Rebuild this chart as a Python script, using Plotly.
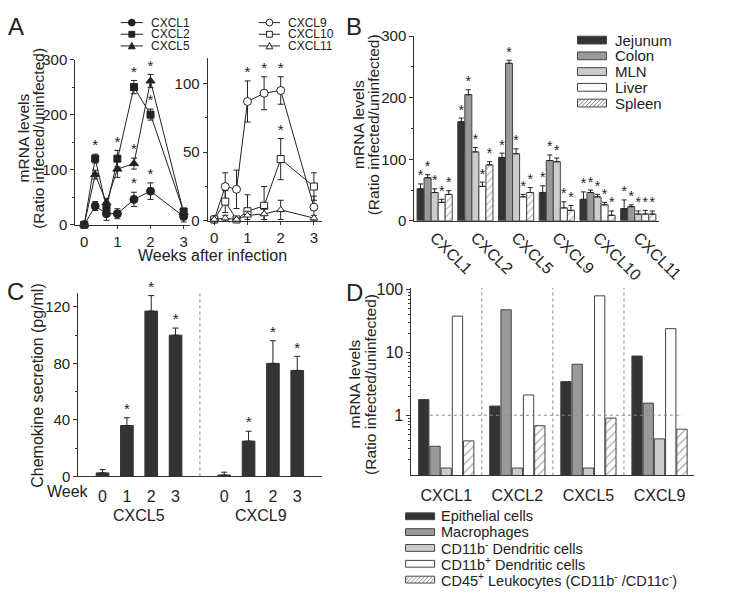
import plotly.graph_objects as go

W, H = 729, 602
FONT = "Liberation Sans, Arial, sans-serif"
TXT = "#222222"
AX = "#333333"

# ---------------- Panel A data ----------------
weeks_a = [0, 0.33, 0.67, 1, 1.5, 2, 3]
a_left_names = ["CXCL1", "CXCL2", "CXCL5"]
cxcl1_a = [0, 34, 20, 20, 46, 61, 15]
cxcl1_a_err = [1, 8, 12, 9, 13, 15, 10]
cxcl1_a_sig = [0, 0, 0, 0, 1, 1, 0]
cxcl2_a = [0, 120, 31, 120, 250, 200, 24]
cxcl2_a_err = [1, 8, 6, 15, 12, 10, 6]
cxcl2_a_sig = [0, 1, 0, 1, 1, 1, 0]
cxcl5_a = [0, 91, 40, 101, 111, 261, 22]
cxcl5_a_err = [1, 8, 8, 15, 10, 12, 5]
cxcl5_a_sig = [0, 0, 0, 0, 1, 1, 0]

a_right_names = ["CXCL9", "CXCL10", "CXCL11"]
cxcl9_a = [1, 25, 23, 87, 93, 95, 10]
cxcl9_a_err = [1, 10, 14, 15, 12, 10, 8]
cxcl9_a_sig = [0, 0, 0, 1, 1, 1, 0]
cxcl10_a = [1, 14, 1, 7, 11, 45, 25]
cxcl10_a_err = [1, 8, 1, 12, 14, 15, 10]
cxcl10_a_sig = [0, 0, 0, 0, 0, 1, 0]
cxcl11_a = [1, 2, 1, 4, 5, 8, 2]
cxcl11_a_err = [0.5, 2, 1, 3, 4, 7, 2]
cxcl11_a_sig = [0, 0, 0, 0, 0, 0, 0]

# ---------------- Panel B data ----------------
genes_b = ["CXCL1", "CXCL2", "CXCL5", "CXCL9", "CXCL10", "CXCL11"]
tissues_b = ["Jejunum", "Colon", "MLN", "Liver", "Spleen"]
jejunum_b = [52, 161, 103, 46, 35, 20]
jejunum_b_err = [8, 6, 7, 11, 12, 14]
colon_b = [70, 205, 256, 98, 46, 23]
colon_b_err = [5, 8, 5, 9, 4, 3]
mln_b = [46, 112, 109, 96, 39, 11]
mln_b_err = [6, 7, 8, 6, 4, 5]
liver_b = [30, 56, 39, 21, 26, 11]
liver_b_err = [5, 7, 4, 10, 4, 6]
spleen_b = [43, 91, 46, 17, 9, 11]
spleen_b_err = [6, 5, 8, 8, 7, 5]

# ---------------- Panel C data ----------------
chemokines_c = ["CXCL5", "CXCL9"]
week_labels_c = ["0", "1", "2", "3"]
cxcl5_c = [2.5, 36, 117, 100]
cxcl5_c_err = [2.3, 5.5, 11, 5]
cxcl5_c_sig = [0, 1, 1, 1]
cxcl9_c = [1, 25, 80, 75]
cxcl9_c_err = [2, 7, 16, 10]
cxcl9_c_sig = [0, 1, 1, 1]

# ---------------- Panel D data ----------------
genes_d = ["CXCL1", "CXCL2", "CXCL5", "CXCL9"]
cells_d = ["Epithelial cells", "Macrophages", "CD11b<sup>-</sup> Dendritic cells",
           "CD11b<sup>+</sup> Dendritic cells",
           "CD45<sup>+</sup> Leukocytes (CD11b<sup>-</sup> /CD11c<sup>-</sup>)"]
epithelial_d = [1.78, 1.4, 3.44, 8.8]
macrophages_d = [0.32, 48, 6.5, 1.56]
cd11b_neg_dc_d = [0.144, 0.144, 0.144, 0.42]
cd11b_pos_dc_d = [38, 2.1, 80, 24]
cd45_leuk_d = [0.39, 0.68, 0.9, 0.6]

# ---------------- helpers ----------------
def PX(x):
    return x / W

def PY(y):
    return 1 - y / H

fig = go.Figure()
shapes = []
annots = []


def add_line_series(xs, ys, errs, sig, name, symbol, size, filled, xa, ya):
    fig.add_trace(go.Scatter(
        x=xs, y=ys, mode="lines+markers", name=name,
        line=dict(color=TXT, width=1),
        marker=dict(symbol=symbol, size=size, color=TXT if filled else "white",
                    line=dict(color=TXT, width=1)),
        error_y=dict(type="data", array=errs, color=TXT, thickness=1, width=3),
        xaxis=xa, yaxis=ya, cliponaxis=False, showlegend=False, hoverinfo="skip"))
    sx = [x for x, s in zip(xs, sig) if s]
    sy = [y + e for y, e, s in zip(ys, errs, sig) if s]
    if sx:
        fig.add_trace(go.Scatter(
            x=sx, y=sy, mode="text", text=["*"] * len(sx), textposition="top center",
            textfont=dict(size=15, color=TXT, family=FONT),
            xaxis=xa, yaxis=ya, cliponaxis=False, showlegend=False, hoverinfo="skip"))


add_line_series(weeks_a, cxcl1_a, cxcl1_a_err, cxcl1_a_sig, "CXCL1", "circle", 8, True, "x", "y")
add_line_series(weeks_a, cxcl2_a, cxcl2_a_err, cxcl2_a_sig, "CXCL2", "square", 7, True, "x", "y")
add_line_series(weeks_a, cxcl5_a, cxcl5_a_err, cxcl5_a_sig, "CXCL5", "triangle-up", 8, True, "x", "y")
add_line_series(weeks_a, cxcl9_a, cxcl9_a_err, cxcl9_a_sig, "CXCL9", "circle", 8, False, "x2", "y2")
add_line_series(weeks_a, cxcl10_a, cxcl10_a_err, cxcl10_a_sig, "CXCL10", "square", 7, False, "x2", "y2")
add_line_series(weeks_a, cxcl11_a, cxcl11_a_err, cxcl11_a_sig, "CXCL11", "triangle-up", 7, False, "x2", "y2")

# ---------------- Panel B bars ----------------
fills5 = ["#333333", "#999999", "#cccccc", "#ffffff", "#ffffff"]
hatched5 = [False, False, False, False, True]
b_series = [(jejunum_b, jejunum_b_err), (colon_b, colon_b_err), (mln_b, mln_b_err),
            (liver_b, liver_b_err), (spleen_b, spleen_b_err)]
WB = 0.173
for j, (vals, errs) in enumerate(b_series):
    xs = [i + (j - 2) * WB for i in range(len(genes_b))]
    pattern = dict(shape="/", fgcolor="#555555", bgcolor="white", size=5, solidity=0.2) if hatched5[j] else None
    fig.add_trace(go.Bar(
        x=xs, y=vals, width=WB, name=tissues_b[j],
        marker=dict(color=fills5[j], line=dict(color="#444444", width=1), pattern=pattern),
        error_y=dict(type="data", symmetric=False, array=errs, arrayminus=[0] * len(errs),
                     color=TXT, thickness=1, width=2.5),
        xaxis="x3", yaxis="y3", showlegend=False, hoverinfo="skip"))
    fig.add_trace(go.Scatter(
        x=xs, y=[v + e for v, e in zip(vals, errs)], mode="text", text=["*"] * len(xs),
        textposition="top center", textfont=dict(size=14, color=TXT, family=FONT),
        xaxis="x3", yaxis="y3", cliponaxis=False, showlegend=False, hoverinfo="skip"))

# ---------------- Panel C bars ----------------
c_series = [(cxcl5_c, cxcl5_c_err, cxcl5_c_sig), (cxcl9_c, cxcl9_c_err, cxcl9_c_sig)]
c_tickvals, c_ticktext = [], []
for g, (vals, errs, sig) in enumerate(c_series):
    xs = [k + 5 * g for k in range(len(vals))]
    c_tickvals += xs
    c_ticktext += week_labels_c
    fig.add_trace(go.Bar(
        x=xs, y=vals, width=0.52, name=chemokines_c[g],
        marker=dict(color="#333333", line=dict(color="#333333", width=1)),
        error_y=dict(type="data", symmetric=False, array=errs, arrayminus=[0] * len(errs),
                     color=TXT, thickness=1, width=3),
        xaxis="x4", yaxis="y4", showlegend=False, hoverinfo="skip"))
    sx = [x for x, s in zip(xs, sig) if s]
    sy = [v + e for v, e, s in zip(vals, errs, sig) if s]
    fig.add_trace(go.Scatter(
        x=sx, y=sy, mode="text", text=["*"] * len(sx), textposition="top center",
        textfont=dict(size=15, color=TXT, family=FONT),
        xaxis="x4", yaxis="y4", cliponaxis=False, showlegend=False, hoverinfo="skip"))
    annots.append(dict(x=sum(xs) / len(xs), xref="x4", y=PY(521), yref="paper",
                       text=chemokines_c[g], showarrow=False, yanchor="middle",
                       font=dict(size=16, color=TXT, family=FONT)))

# ---------------- Panel D bars ----------------
d_series = [epithelial_d, macrophages_d, cd11b_neg_dc_d, cd11b_pos_dc_d, cd45_leuk_d]
WD = 0.158
for j, vals in enumerate(d_series):
    xs = [i + (j - 2) * WD for i in range(len(genes_d))]
    pattern = dict(shape="/", fgcolor="#555555", bgcolor="white", size=6, solidity=0.2) if hatched5[j] else None
    fig.add_trace(go.Bar(
        x=xs, y=vals, width=0.145, name=cells_d[j],
        marker=dict(color=fills5[j], line=dict(color="#444444", width=1), pattern=pattern),
        xaxis="x5", yaxis="y5", showlegend=False, hoverinfo="skip"))

# ---------------- axes ----------------
TF = dict(size=15, color=TXT, family=FONT)

def axis(**kw):
    base = dict(showline=True, linecolor=AX, linewidth=1, ticks="outside", ticklen=4,
                tickwidth=1, tickcolor=AX, showgrid=False, zeroline=False,
                tickfont=TF, fixedrange=True)
    base.update(kw)
    return base

layout_axes = dict(
    xaxis=axis(domain=[PX(78), PX(197)], range=[-0.27, 3.2], anchor="y", dtick=1, tick0=0, ticklen=3),
    yaxis=axis(domain=[PY(222), PY(52)], range=[0, 300], anchor="x", dtick=100,
               minor=dict(ticks="outside", ticklen=2, dtick=50, tickcolor=AX)),
    xaxis2=axis(domain=[PX(215), PX(333)], range=[-0.2, 3.23], anchor="y2", dtick=1, tick0=0, ticklen=3),
    yaxis2=axis(domain=[PY(218), PY(50)], range=[0, 119], anchor="x2", dtick=50,
                minor=dict(ticks="outside", ticklen=2, dtick=25, tickcolor=AX)),
    xaxis3=axis(domain=[PX(429), PX(682)], range=[-0.5, 5.5], anchor="y3",
                tickvals=list(range(len(genes_b))), ticktext=genes_b, tickangle=45,
                ticks="", tickfont=dict(size=16, color=TXT, family=FONT)),
    yaxis3=axis(domain=[PY(218), PY(28)], range=[0, 300], anchor="x3", dtick=100,
                minor=dict(ticks="outside", ticklen=2, dtick=50, tickcolor=AX)),
    xaxis4=axis(domain=[PX(81), PX(333)], range=[-1, 9], anchor="y4",
                tickvals=c_tickvals, ticktext=c_ticktext, ticks="outside", ticklen=5,
                tickcolor="rgba(0,0,0,0)", tickfont=dict(size=16, color=TXT, family=FONT)),
    yaxis4=axis(domain=[PY(481), PY(292)], range=[0, 130], anchor="x4", dtick=40,
                minor=dict(ticks="outside", ticklen=2, dtick=20, tickcolor=AX)),
    xaxis5=axis(domain=[PX(426), PX(719)], range=[-0.49, 3.49], anchor="y5",
                tickvals=list(range(len(genes_d))), ticktext=genes_d, ticks="outside", ticklen=5,
                tickcolor="rgba(0,0,0,0)", tickfont=dict(size=16, color=TXT, family=FONT)),
    yaxis5=axis(type="log", domain=[PY(480), PY(287)], range=[-0.96, 2.03], anchor="x5",
                tickvals=[1, 10, 100], ticktext=["1", "10", "100"],
                tickfont=dict(size=16, color=TXT, family=FONT),
                minor=dict(ticks="outside", ticklen=2, tickcolor=AX,
                           tickvals=[m * 10 ** e for e in (-1, 0, 1) for m in range(2, 10)])),
)

# separators
shapes.append(dict(type="line", xref="x4", yref="y4 domain", x0=4, x1=4, y0=0, y1=1,
                   line=dict(color="#888888", width=1, dash="dot")))
for k in range(len(genes_d) - 1):
    shapes.append(dict(type="line", xref="x5", yref="y5 domain", x0=k + 0.5, x1=k + 0.5, y0=0, y1=1,
                       line=dict(color="#888888", width=1, dash="dot")))
shapes.append(dict(type="line", xref="x5", yref="y5", x0=-0.23, x1=3.32, y0=1, y1=1,
                   line=dict(color="#888888", width=1, dash="dot")))

# ---------------- legends (drawn) ----------------
def legend_line(x0, x1, y, symbol, filled, label):
    shapes.append(dict(type="line", xref="paper", yref="paper", x0=PX(x0), x1=PX(x1),
                       y0=PY(y), y1=PY(y), line=dict(color=TXT, width=1)))
    cx = (x0 + x1) / 2
    fill = TXT if filled else "white"
    if symbol == "circle":
        shapes.append(dict(type="circle", xref="paper", yref="paper", x0=PX(cx - 3.5), x1=PX(cx + 3.5),
                           y0=PY(y + 3.5), y1=PY(y - 3.5), fillcolor=fill, line=dict(color=TXT, width=1)))
    elif symbol == "square":
        shapes.append(dict(type="rect", xref="paper", yref="paper", x0=PX(cx - 3), x1=PX(cx + 3),
                           y0=PY(y + 3), y1=PY(y - 3), fillcolor=fill, line=dict(color=TXT, width=1)))
    else:
        path = "M%f,%f L%f,%f L%f,%f Z" % (PX(cx - 3.5), PY(y + 3), PX(cx + 3.5), PY(y + 3), PX(cx), PY(y - 3.5))
        shapes.append(dict(type="path", xref="paper", yref="paper", path=path, fillcolor=fill,
                           line=dict(color=TXT, width=1)))
    annots.append(dict(x=PX(x1 + 6), y=PY(y), xref="paper", yref="paper", text=label, showarrow=False,
                       xanchor="left", yanchor="middle", font=dict(size=12, color=TXT, family=FONT)))

syms = ["circle", "square", "triangle-up"]
for k, nm in enumerate(a_left_names):
    legend_line(125, 148, 14 + 12 * k, syms[k], True, nm)
for k, nm in enumerate(a_right_names):
    legend_line(268, 290, 14 + 12 * k, syms[k], False, nm)


def hatch_rect(x0, y0, x1, y1, step=4):
    h = y1 - y0
    xs = x0 - h
    while xs < x1:
        sx, sy = xs, y1
        ex, ey = xs + h, y0
        if sx < x0:
            sy = y1 - (x0 - sx)
            sx = x0
        if ex > x1:
            ey = y0 + (ex - x1)
            ex = x1
        if ex > sx:
            shapes.append(dict(type="line", xref="paper", yref="paper", x0=PX(sx), y0=PY(sy),
                               x1=PX(ex), y1=PY(ey), line=dict(color="#666666", width=0.8)))
        xs += step


def legend_box(x0, x1, yc, hh, color, hatched, label, tx, fsize):
    shapes.append(dict(type="rect", xref="paper", yref="paper", x0=PX(x0), x1=PX(x1),
                       y0=PY(yc + hh / 2), y1=PY(yc - hh / 2), fillcolor=color,
                       line=dict(color="#444444", width=1)))
    if hatched:
        hatch_rect(x0, yc - hh / 2, x1, yc + hh / 2)
    annots.append(dict(x=PX(tx), y=PY(yc), xref="paper", yref="paper", text=label, showarrow=False,
                       xanchor="left", yanchor="middle", font=dict(size=fsize, color=TXT, family=FONT)))

for k, nm in enumerate(tissues_b):
    legend_box(598, 628, 32 + 16.2 * k, 8, fills5[k], hatched5[k], nm, 635, 15)
for k, nm in enumerate(cells_d):
    legend_box(420, 450, 522 + 16.3 * k, 7, fills5[k], hatched5[k], nm, 455, 14.5)

# ---------------- text annotations ----------------
def txt(x, y, s, size, angle=0, xanchor="center"):
    annots.append(dict(x=PX(x), y=PY(y), xref="paper", yref="paper", text=s, showarrow=False,
                       textangle=angle, xanchor=xanchor, yanchor="middle",
                       font=dict(size=size, color=TXT, family=FONT)))

txt(17, 18, "A", 24)
txt(367, 18, "B", 24)
txt(16, 291, "C", 24)
txt(367, 292, "D", 24)

txt(24, 133, "mRNA levels", 15.5, -90)
txt(40, 133, "(Ratio infected/uninfected)", 15.5, -90)
txt(371, 119, "mRNA levels", 15.5, -90)
txt(387, 119, "(Ratio infected/uninfected)", 15.5, -90)
txt(367, 386, "mRNA levels", 15.5, -90)
txt(383, 386, "(Ratio infected/uninfected)", 15.5, -90)
txt(38, 387, "Chemokine secretion (pg/ml)", 16, -90)
txt(220, 254, "Weeks after infection", 16)
txt(70, 497, "Week", 16)

fig.update_layout(
    width=W, height=H, margin=dict(l=0, r=0, t=0, b=0),
    paper_bgcolor="white", plot_bgcolor="white",
    font=dict(family=FONT, color=TXT),
    barmode="overlay", showlegend=False, hovermode=False,
    shapes=shapes, annotations=annots,
    **layout_axes)

fig.write_html("out.html", config={"displayModeBar": False, "staticPlot": True},
               post_script="document.body.style.margin='0';document.body.style.overflow='hidden';")
